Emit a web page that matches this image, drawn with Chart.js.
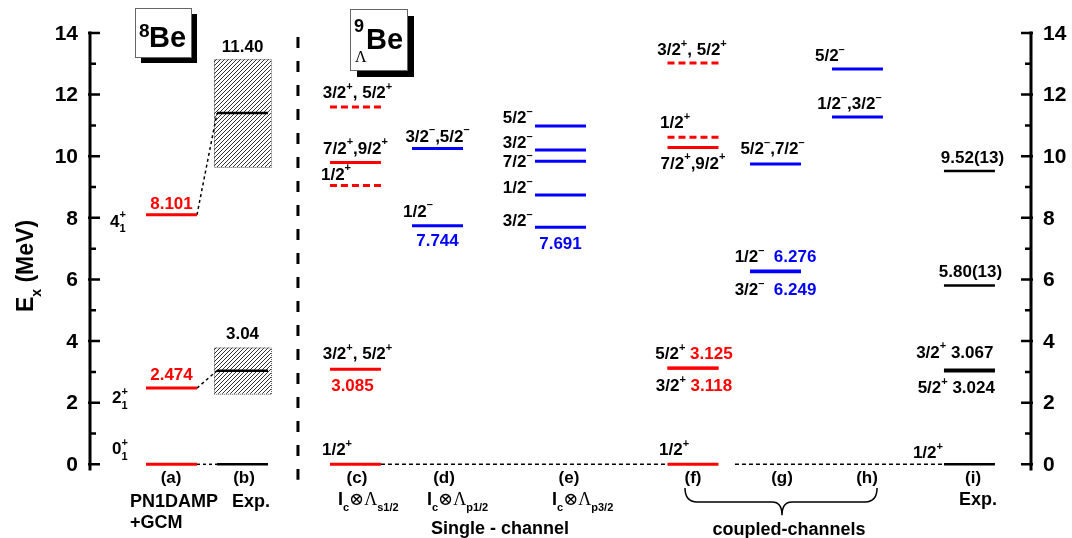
<!DOCTYPE html>
<html>
<head>
<meta charset="utf-8">
<script src="https://cdn.jsdelivr.net/npm/chart.js@4.4.1/dist/chart.umd.min.js"></script>
<style>
html, body { margin: 0; padding: 0; background: #fff; }
#wrap { width: 1072px; height: 538px; position: relative; }
</style>
</head>
<body>
<div id="wrap"><canvas id="levelChart"></canvas></div>
<script>
// Level energies (MeV)
const columns = ['(a)', '(b)', '(c)', '(d)', '(e)', '(f)', '(g)', '(h)', '(i)'];
const columnPos = [0.866, 1.621, 2.821, 3.693, 5.0, 6.408, 7.285, 8.156, 9.346];
const halfWidth = 0.271;

const be8Calc = [0, 2.474, 8.101];                  // (a) PN1DAMP+GCM
const be8Exp = [0, 3.04, 11.40];                    // (b) Exp.
const be8ExpWidth = [0, 1.5, 3.5];                  // (b) widths (hatched)
const sSolid = [0, 3.085, 9.80];                    // (c) Ic x Lambda s1/2
const sDashed = [9.05, 11.60];
const p12Levels = [7.744, 10.25];                   // (d) Ic x Lambda p1/2
const p32Levels = [7.691, 8.74, 9.84, 10.20, 10.98]; // (e) Ic x Lambda p3/2
const ccPosSolid = [0, 3.118, 3.125, 10.28];        // (f)
const ccPosDashed = [10.62, 13.03];
const ccNegG = [6.249, 6.276, 9.75];                // (g)
const ccNegH = [11.27, 12.83];                      // (h)
const be9Exp = [0, 3.024, 3.067, 5.80, 9.52];       // (i) Exp.

const yTicks = [0, 2, 4, 6, 8, 10, 12, 14];

const RED = '#ff0000';
const BLUE = '#0000ff';
const BLACK = '#000000';
const FF = '"Liberation Sans", Arial, Helvetica, sans-serif';
const SERIF = { family: '"Liberation Serif", "DejaVu Serif", serif', weight: 'normal' };

// build line datasets
const datasets = [];
function addLevels(col, energies, color, width, dash) {
    energies.forEach(e => {
        datasets.push({
            data: [{ x: columnPos[col] - halfWidth, y: e }, { x: columnPos[col] + halfWidth, y: e }],
            borderColor: color,
            borderWidth: width,
            borderDash: dash || [],
            showLine: true,
            pointRadius: 0,
            clip: false
        });
    });
}
function addLink(x1, e1, x2, e2, dash) {
    datasets.push({
        data: [{ x: x1, y: e1 }, { x: x2, y: e2 }],
        borderColor: BLACK,
        borderWidth: 1.5,
        borderDash: dash,
        showLine: true,
        pointRadius: 0,
        clip: false
    });
}

addLevels(0, be8Calc, RED, 3);
addLevels(1, be8Exp, BLACK, 2.5);
addLevels(2, sSolid, RED, 3);
addLevels(2, sDashed, RED, 3, [7, 4]);
addLevels(3, p12Levels, BLUE, 3);
addLevels(4, p32Levels, BLUE, 3);
addLevels(5, ccPosSolid, RED, 3);
addLevels(5, ccPosDashed, RED, 3, [7, 4]);
addLevels(6, ccNegG, BLUE, 3);
addLevels(7, ccNegH, BLUE, 3);
addLevels(8, be9Exp, BLACK, 2.5);

// (a) -> (b) correspondences
for (let i = 0; i < be8Calc.length; i++) {
    addLink(columnPos[0] + halfWidth, be8Calc[i], columnPos[1] - halfWidth, be8Exp[i], [3, 3]);
}
// ground state reference line
addLink(columnPos[2] + halfWidth, 0, columnPos[5] - halfWidth, 0, [4, 3]);
addLink(columnPos[5] + halfWidth + 0.175, 0, columnPos[8] - halfWidth, 0, [4, 3]);

// text next to levels: col, energy, pixel offsets
const levelLabels = [
    { col: 0, e: 8.101, parts: [['8.101', RED]], dy: -12 },
    { col: 0, e: 2.474, parts: [['2.474', RED]], dy: -14 },
    { col: 0, e: 8.101, parts: [['4^{+}_{1}']], align: 'left', dx: -61.5, dy: 6, size: 17 },
    { col: 0, e: 2.474, parts: [['2^{+}_{1}']], align: 'left', dx: -59.5, dy: 9, size: 17 },
    { col: 0, e: 0, parts: [['0^{+}_{1}']], align: 'left', dx: -59.5, dy: -16, size: 17 },
    { col: 1, e: 11.40, parts: [['11.40']], dy: -67 },
    { col: 1, e: 3.04, parts: [['3.04']], dy: -38 },

    { col: 2, e: 11.60, parts: [['3/2^{+}, 5/2^{+}']], dx: 2, dy: -15 },
    { col: 2, e: 9.80, parts: [['7/2^{+},9/2^{+}']], dy: -15 },
    { col: 2, e: 9.05, parts: [['1/2^{+}']], align: 'left', dx: -34.5, dy: -12 },
    { col: 2, e: 3.085, parts: [['3/2^{+}, 5/2^{+}']], dx: 2, dy: -16 },
    { col: 2, e: 3.085, parts: [['3.085', RED]], dx: -3, dy: 16 },
    { col: 2, e: 0, parts: [['1/2^{+}']], align: 'left', dx: -33.5, dy: -15 },

    { col: 3, e: 10.25, parts: [['3/2^{–},5/2^{–}']], dy: -13 },
    { col: 3, e: 7.744, parts: [['1/2^{–}']], align: 'left', dx: -34.5, dy: -15 },
    { col: 3, e: 7.744, parts: [['7.744', BLUE]], dy: 14 },

    { col: 4, e: 10.98, parts: [['5/2^{–}']], align: 'right', dx: -28, dy: -9 },
    { col: 4, e: 10.20, parts: [['3/2^{–}']], align: 'right', dx: -28, dy: -8 },
    { col: 4, e: 9.84, parts: [['7/2^{–}']], align: 'right', dx: -28, dy: 0 },
    { col: 4, e: 8.74, parts: [['1/2^{–}']], align: 'right', dx: -28, dy: -8 },
    { col: 4, e: 7.691, parts: [['3/2^{–}']], align: 'right', dx: -28, dy: -7 },
    { col: 4, e: 7.691, parts: [['7.691', BLUE]], dy: 16 },

    { col: 5, e: 13.03, parts: [['3/2^{+}, 5/2^{+}']], dx: -1, dy: -14 },
    { col: 5, e: 10.62, parts: [['1/2^{+}']], align: 'left', dx: -33, dy: -15 },
    { col: 5, e: 10.28, parts: [['7/2^{+},9/2^{+}']], dy: 15 },
    { col: 5, e: 3.125, parts: [['5/2^{+} '], ['3.125', RED]], dx: 1, dy: -15 },
    { col: 5, e: 3.118, parts: [['3/2^{+} '], ['3.118', RED]], dx: 1, dy: 17 },
    { col: 5, e: 0, parts: [['1/2^{+}']], align: 'left', dx: -34, dy: -15 },

    { col: 6, e: 9.75, parts: [['5/2^{–},7/2^{–}']], dx: -3, dy: -16 },
    { col: 6, e: 6.27, parts: [['1/2^{–}  '], ['6.276', BLUE]], dy: -15 },
    { col: 6, e: 6.27, parts: [['3/2^{–}  '], ['6.249', BLUE]], dy: 18 },

    { col: 7, e: 12.83, parts: [['5/2^{–}']], align: 'left', dx: -42.5, dy: -14 },
    { col: 7, e: 11.27, parts: [['1/2^{–},3/2^{–}']], dx: -8, dy: -14 },

    { col: 8, e: 9.52, parts: [['9.52(13)']], dx: 3, dy: -14 },
    { col: 8, e: 5.80, parts: [['5.80(13)']], dx: 1, dy: -15 },
    { col: 8, e: 3.067, parts: [['3/2^{+} 3.067']], align: 'right', dx: 24, dy: -18 },
    { col: 8, e: 3.024, parts: [['5/2^{+} 3.024']], align: 'right', dx: 25.5, dy: 16 },
    { col: 8, e: 0, parts: [['1/2^{+}']], align: 'right', dx: -26.5, dy: -12 }
];

// labels under the axis, in axis units
const bottomLabels = [
    { x: 0.861, y: -0.41, parts: [['(a)']] },
    { x: 1.637, y: -0.41, parts: [['(b)']] },
    { x: 2.837, y: -0.41, parts: [['(c)']] },
    { x: 3.762, y: -0.41, parts: [['(d)']] },
    { x: 5.090, y: -0.41, parts: [['(e)']] },
    { x: 6.408, y: -0.41, parts: [['(f)']] },
    { x: 7.354, y: -0.41, parts: [['(g)']] },
    { x: 8.257, y: -0.41, parts: [['(h)']] },
    { x: 9.384, y: -0.41, parts: [['(i)']] },
    { x: 0.893, y: -1.16, parts: [['PN1DAMP']], size: 18 },
    { x: 0.425, y: -1.87, parts: [['+GCM']], align: 'left', size: 18 },
    { x: 1.711, y: -1.16, parts: [['Exp.']], size: 18 },
    { x: 9.437, y: -1.10, parts: [['Exp.']], size: 18 },
    { x: 2.635, y: -1.11, parts: [['I_{c}'], ['⊗Λ', BLACK, SERIF], ['_{s1/2}']], align: 'left', size: 18 },
    { x: 3.581, y: -1.11, parts: [['I_{c}'], ['⊗Λ', BLACK, SERIF], ['_{p1/2}']], align: 'left', size: 18 },
    { x: 4.910, y: -1.11, parts: [['I_{c}'], ['⊗Λ', BLACK, SERIF], ['_{p3/2}']], align: 'left', size: 18 },
    { x: 4.357, y: -2.04, parts: [['Single - channel']], size: 18 },
    { x: 7.428, y: -2.07, parts: [['coupled-channels']], size: 18 }
];

// small rich-text helper: ^{sup} and _{sub}
function parseRich(str) {
    const segs = [];
    const re = /(\^|_)\{([^}]*)\}|([^\^_]+)/g;
    let m;
    while ((m = re.exec(str))) {
        if (m[3]) segs.push({ t: m[3], type: 'n' });
        else segs.push({ t: m[2], type: m[1] === '^' ? 'sup' : 'sub' });
    }
    return segs;
}

function drawRich(ctx, parts, x, yc, align, size) {
    size = size || 17;
    const items = [];
    let cx = 0, lastType = 'n', scriptStart = 0;
    parts.forEach(p => {
        const color = p[1] || BLACK;
        const spec = p[2] || { family: FF, weight: 'bold' };
        parseRich(p[0]).forEach(seg => {
            const isScript = seg.type !== 'n';
            const fs = isScript ? Math.round(size * 0.62) : size;
            ctx.font = isScript ? `bold ${fs}px ${FF}` : `${spec.weight} ${fs}px ${spec.family}`;
            const w = ctx.measureText(seg.t).width;
            let sx = cx;
            const stacked = isScript && lastType !== 'n' && lastType !== seg.type;
            if (stacked) sx = scriptStart;
            else if (isScript) scriptStart = cx;
            const dy = seg.type === 'sup' ? -0.5 * size : (seg.type === 'sub' ? 0.32 * size : 0);
            items.push({ t: seg.t, x: sx, dy, font: ctx.font, color });
            cx = stacked ? Math.max(cx, sx + w) : sx + w;
            lastType = seg.type;
        });
    });
    const total = cx;
    let x0 = x;
    if (align === 'center' || !align) x0 = x - total / 2;
    else if (align === 'right') x0 = x - total;
    const base = yc + 0.36 * size;
    ctx.textAlign = 'left';
    ctx.textBaseline = 'alphabetic';
    items.forEach(it => {
        ctx.font = it.font;
        ctx.fillStyle = it.color;
        ctx.fillText(it.t, x0 + it.x, base + it.dy);
    });
}

function makeHatch() {
    const pc = document.createElement('canvas');
    pc.width = 4; pc.height = 4;
    const g = pc.getContext('2d');
    g.strokeStyle = '#333';
    g.lineWidth = 1;
    g.beginPath();
    g.moveTo(0, 4); g.lineTo(4, 0);
    g.moveTo(-1, 1); g.lineTo(1, -1);
    g.moveTo(3, 5); g.lineTo(5, 3);
    g.stroke();
    return pc;
}

const levelPlugin = {
    id: 'levelScheme',
    beforeDatasetsDraw(chart) {
        const ctx = chart.ctx;
        const xs = chart.scales.x, ys = chart.scales.y;
        const pattern = ctx.createPattern(makeHatch(), 'repeat');
        ctx.save();
        be8Exp.forEach((e, i) => {
            const w = be8ExpWidth[i];
            if (!w) return;
            const x1 = xs.getPixelForValue(columnPos[1] - halfWidth - 0.032);
            const x2 = xs.getPixelForValue(columnPos[1] + halfWidth + 0.032);
            const y1 = ys.getPixelForValue(e + w / 2);
            const y2 = ys.getPixelForValue(e - w / 2);
            ctx.fillStyle = pattern;
            ctx.fillRect(x1, y1, x2 - x1, y2 - y1);
            ctx.strokeStyle = '#555';
            ctx.lineWidth = 1;
            ctx.setLineDash([1, 1]);
            ctx.strokeRect(x1 + 0.5, y1 + 0.5, x2 - x1, y2 - y1);
        });
        ctx.restore();
    },
    afterDatasetsDraw(chart) {
        const ctx = chart.ctx;
        const xs = chart.scales.x, ys = chart.scales.y;
        ctx.save();

        // axes on both sides
        ctx.strokeStyle = BLACK;
        ctx.lineWidth = 3;
        ctx.setLineDash([]);
        const xl = xs.getPixelForValue(0), xr = xs.getPixelForValue(10);
        const yTop = ys.getPixelForValue(14) - 1.5, yBot = ys.getPixelForValue(-0.2);
        ctx.beginPath();
        ctx.moveTo(xl, yTop); ctx.lineTo(xl, yBot);
        ctx.moveTo(xr, yTop); ctx.lineTo(xr, yBot);
        ctx.stroke();
        ctx.lineWidth = 2.5;
        for (let v = 0; v <= 14; v++) {
            const py = ys.getPixelForValue(v);
            const major = v % 2 === 0;
            ctx.beginPath();
            ctx.moveTo(xl - (major ? 2 : 0), py); ctx.lineTo(xl + (major ? 10 : 6), py);
            ctx.moveTo(xr + (major ? 2 : 0), py); ctx.lineTo(xr - (major ? 10 : 6), py);
            ctx.stroke();
        }
        ctx.fillStyle = BLACK;
        ctx.font = `bold 21px ${FF}`;
        ctx.textBaseline = 'middle';
        yTicks.forEach(v => {
            const py = ys.getPixelForValue(v) + 1;
            ctx.textAlign = 'right';
            ctx.fillText(String(v), xl - 12, py);
            ctx.textAlign = 'left';
            ctx.fillText(String(v), xr + 12, py);
        });

        // axis title
        ctx.save();
        ctx.translate(25, 266);
        ctx.rotate(-Math.PI / 2);
        drawRich(ctx, [['E_{x} (MeV)']], 0, 0, 'center', 23);
        ctx.restore();

        // separator between 8Be and 9LBe
        ctx.strokeStyle = BLACK;
        ctx.lineWidth = 3;
        ctx.setLineDash([11, 13]);
        const xsep = xs.getPixelForValue(2.21);
        ctx.beginPath();
        ctx.moveTo(xsep, ys.getPixelForValue(13.87));
        ctx.lineTo(xsep, ys.getPixelForValue(-0.5));
        ctx.stroke();
        ctx.setLineDash([]);

        // nucleus boxes
        function nucBox(x0, y0, w, h, off) {
            ctx.fillStyle = BLACK;
            ctx.fillRect(x0 + off, y0 + off, w, h);
            ctx.fillStyle = '#fff';
            ctx.fillRect(x0, y0, w, h);
            ctx.strokeStyle = '#666';
            ctx.lineWidth = 1;
            ctx.strokeRect(x0 + 0.5, y0 + 0.5, w, h);
        }
        nucBox(135, 8, 56, 49, 6);
        nucBox(350, 9, 57, 61, 7);
        ctx.fillStyle = BLACK;
        ctx.textAlign = 'left';
        ctx.textBaseline = 'alphabetic';
        ctx.font = `bold 19px ${FF}`;
        ctx.fillText('8', 139, 37);
        ctx.font = `bold 29px ${FF}`;
        ctx.fillText('Be', 149, 47);
        ctx.font = `bold 18px ${FF}`;
        ctx.fillText('9', 354, 32);
        ctx.font = `16px ${SERIF.family}`;
        ctx.fillText('Λ', 355, 62);
        ctx.font = `bold 29px ${FF}`;
        ctx.fillText('Be', 366, 49);

        // level labels
        levelLabels.forEach(l => {
            const px = xs.getPixelForValue(columnPos[l.col]) + (l.dx || 0);
            const py = ys.getPixelForValue(l.e) + (l.dy || 0);
            drawRich(ctx, l.parts, px, py, l.align || 'center', l.size || 17);
        });
        bottomLabels.forEach(l => {
            drawRich(ctx, l.parts, xs.getPixelForValue(l.x), ys.getPixelForValue(l.y), l.align || 'center', l.size || 17);
        });

        // brace under (f)-(h)
        const bx0 = xs.getPixelForValue(6.323), bx1 = xs.getPixelForValue(8.364);
        const bm = xs.getPixelForValue(7.354);
        const yt = ys.getPixelForValue(-0.77), yh = ys.getPixelForValue(-1.22), yb = ys.getPixelForValue(-1.65);
        ctx.strokeStyle = BLACK;
        ctx.lineWidth = 1.5;
        ctx.beginPath();
        ctx.moveTo(bx0, yt);
        ctx.quadraticCurveTo(bx0, yh, bx0 + 12, yh);
        ctx.lineTo(bm - 10, yh);
        ctx.quadraticCurveTo(bm, yh, bm, yb);
        ctx.quadraticCurveTo(bm, yh, bm + 10, yh);
        ctx.lineTo(bx1 - 12, yh);
        ctx.quadraticCurveTo(bx1, yh, bx1, yt);
        ctx.stroke();

        ctx.restore();
    }
};

const ctx = document.getElementById('levelChart').getContext('2d');
window.levelChart = new Chart(ctx, {
    type: 'scatter',
    data: { datasets: datasets },
    options: {
        responsive: true,
        maintainAspectRatio: false,
        animation: false,
        devicePixelRatio: 1,
        layout: { padding: { left: 90, right: 41, top: 33, bottom: 73.7 } },
        scales: {
            x: { type: 'linear', min: 0, max: 10, display: false },
            y: { type: 'linear', min: 0, max: 14, display: false }
        },
        plugins: {
            legend: { display: false },
            tooltip: { enabled: false }
        }
    },
    plugins: [levelPlugin]
});
</script>
</body>
</html>
